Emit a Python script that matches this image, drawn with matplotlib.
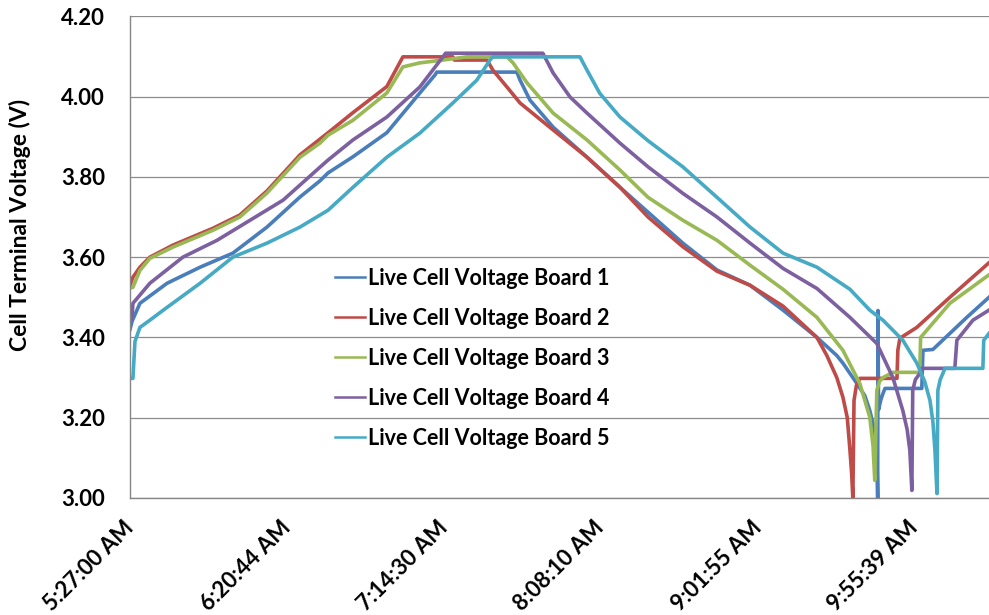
import matplotlib
matplotlib.use('Agg')
import matplotlib.pyplot as plt

plt.rcParams['font.family'] = ['Lato', 'DejaVu Sans']
plt.rcParams['font.weight'] = 'bold'

# time axis in minutes after 5:27:00 AM, values in volts
board1_t = [0, 0.7, 3.4, 12.7, 24.0, 35.2, 46.9, 58.2, 65.0, 67.8, 76.3, 87.9, 99.2, 104.4, 105.0,
            132.4, 133.5, 136.9, 144.8, 156.4, 167.7, 177.3, 189.2, 200.9, 212.2, 223.5, 235.1,
            241.9, 244.0, 248.8, 251.5, 253.2, 254.8, 255.6, 255.9, 256.0, 256.2, 257.0, 257.7,
            258.4, 271.0, 271.4, 274.8, 280.6, 286.4, 294.0]
board1_v = [3.42, 3.44, 3.485, 3.535, 3.575, 3.61, 3.675, 3.75, 3.79, 3.81, 3.85, 3.91, 4.009, 4.054, 4.061,
            4.061, 4.041, 3.991, 3.924, 3.849, 3.774, 3.712, 3.635, 3.568, 3.53, 3.468, 3.40,
            3.355, 3.336, 3.285, 3.255, 3.218, 3.17, 3.12, 3.0, 3.467, 3.22, 3.245, 3.26,
            3.273, 3.273, 3.368, 3.37, 3.41, 3.45, 3.50]

board2_t = [0, 1.0, 3.4, 6.8, 14.7, 28.4, 37.6, 46.9, 58.2, 67.8, 76.3, 87.9, 93.4, 110.5, 111.0,
            122.2, 124.2, 129.0, 133.5, 144.8, 156.4, 167.7, 177.3, 189.2, 200.9, 212.2, 223.5,
            235.1, 238.5, 241.9, 244.0, 245.5, 246.4, 247.0, 247.4, 247.8, 248.6, 249.8, 262.5,
            262.8, 263.5, 269.3, 280.6, 294.0]
board2_v = [3.53, 3.55, 3.575, 3.60, 3.63, 3.672, 3.705, 3.765, 3.855, 3.91, 3.96, 4.025, 4.099, 4.099, 4.091,
            4.091, 4.066, 4.024, 3.984, 3.917, 3.849, 3.774, 3.70, 3.626, 3.565, 3.53, 3.478,
            3.40, 3.355, 3.30, 3.251, 3.20, 3.12, 3.06, 3.0, 3.243, 3.28, 3.298, 3.298,
            3.368, 3.398, 3.425, 3.50, 3.586]

board3_t = [0, 1.0, 3.4, 6.8, 14.7, 28.4, 37.6, 46.9, 58.2, 65.0, 67.8, 76.3, 87.9, 93.4, 99.2, 107.1,
            115.3, 129.0, 131.1, 135.9, 144.8, 156.4, 167.7, 177.3, 189.2, 200.9, 212.2, 223.5,
            235.1, 244.0, 249.8, 253.2, 254.3, 254.9, 255.6, 256.5, 257.7, 261.1, 270.3, 270.6,
            280.6, 294.0]
board3_v = [3.523, 3.525, 3.567, 3.597, 3.625, 3.667, 3.70, 3.76, 3.849, 3.884, 3.904, 3.941, 4.009, 4.074, 4.084, 4.091,
            4.099, 4.099, 4.084, 4.034, 3.959, 3.892, 3.817, 3.749, 3.692, 3.642, 3.58, 3.52,
            3.45, 3.368, 3.285, 3.201, 3.13, 3.044, 3.268, 3.29, 3.30, 3.313, 3.313, 3.40,
            3.485, 3.556]

board4_t = [0, 0.7, 1.0, 6.8, 18.1, 29.8, 41.1, 52.4, 65.0, 67.8, 76.3, 87.9, 99.2, 107.1, 108.0,
            141.3, 144.8, 150.6, 156.4, 167.7, 177.3, 189.2, 200.9, 212.2, 223.5, 235.1, 246.4,
            255.6, 261.1, 264.5, 266.0, 266.9, 267.6, 267.9, 268.8, 270.3, 271.0, 282.3, 283.0,
            288.5, 294.0]
board4_v = [3.44, 3.45, 3.485, 3.535, 3.60, 3.642, 3.692, 3.742, 3.824, 3.842, 3.892, 3.949, 4.024, 4.099, 4.108,
            4.108, 4.059, 3.999, 3.959, 3.884, 3.825, 3.759, 3.70, 3.635, 3.572, 3.522, 3.45,
            3.385, 3.30, 3.218, 3.17, 3.119, 3.019, 3.268, 3.295, 3.31, 3.323, 3.323, 3.393,
            3.443, 3.468]

board5_t = [0, 1.0, 1.7, 3.4, 6.8, 12.7, 24.0, 35.2, 46.9, 58.2, 67.8, 76.3, 87.9, 99.2, 110.5, 118.7,
            123.2, 124.2, 154.0, 156.4, 160.8, 167.7, 177.3, 189.2, 200.9, 212.2, 223.5, 235.1,
            246.4, 253.2, 257.7, 264.5, 269.3, 272.0, 273.8, 274.8, 275.5, 276.2, 276.5, 277.3,
            278.2, 278.9, 291.9, 292.2, 294.0]
board5_v = [3.298, 3.298, 3.39, 3.425, 3.443, 3.475, 3.535, 3.60, 3.635, 3.675, 3.717, 3.774, 3.849, 3.909, 3.984, 4.041,
            4.091, 4.099, 4.099, 4.066, 4.008, 3.949, 3.89, 3.825, 3.749, 3.675, 3.61, 3.575,
            3.52, 3.468, 3.443, 3.393, 3.336, 3.29, 3.243, 3.19, 3.119, 3.011, 3.268, 3.295,
            3.31, 3.323, 3.323, 3.393, 3.41]

series_names = ['Live Cell Voltage Board 1', 'Live Cell Voltage Board 2', 'Live Cell Voltage Board 3',
                'Live Cell Voltage Board 4', 'Live Cell Voltage Board 5']
series_colors = ['#4A7EBB', '#BE4B48', '#98B954', '#7D60A0', '#46AAC5']
series_t = [board1_t, board2_t, board3_t, board4_t, board5_t]
series_v = [board1_v, board2_v, board3_v, board4_v, board5_v]

tick_minutes = [0, 53.73, 107.5, 161.17, 214.92, 268.65]
tick_labels = ['5:27:00 AM', '6:20:44 AM', '7:14:30 AM', '8:08:10 AM', '9:01:55 AM', '9:55:39 AM']
y_ticks = [3.00, 3.20, 3.40, 3.60, 3.80, 4.00, 4.20]

fig = plt.figure(figsize=(9.89, 6.15), dpi=100)
ax = fig.add_axes([130 / 989, 1 - 498 / 615, 859 / 989, (498 - 16.3) / 615])

for name, color, t, v in zip(series_names, series_colors, series_t, series_v):
    ax.plot(t, v, color=color, linewidth=2.6, label=name, solid_joinstyle='round')

ax.set_xlim(0, 294.0)
ax.set_ylim(3.0, 4.2)
ax.set_yticks(y_ticks, ['%.2f' % y for y in y_ticks])
ax.set_xticks(tick_minutes, tick_labels, rotation=45, ha='right', va='center', rotation_mode='anchor')
ax.tick_params(axis='y', length=0, pad=18, labelsize=16)
ax.tick_params(axis='x', length=0, pad=19, labelsize=16)

ax.grid(axis='y', color='#8c8c8c', linewidth=0.9)
ax.set_axisbelow(True)
for side in ['top', 'right']:
    ax.spines[side].set_visible(False)
for side in ['left', 'bottom']:
    ax.spines[side].set_color('#868686')
    ax.spines[side].set_linewidth(1.0)

fig.text(20 / 989, 1 - 225 / 615, 'Cell Terminal Voltage (V)', rotation=90,
         ha='center', va='center', fontsize=16.5, fontweight='bold')

leg = ax.legend(loc='upper left', bbox_to_anchor=(335 / 989, 1 - 268 / 615),
                bbox_transform=fig.transFigure, frameon=False, fontsize=15.5,
                handlelength=1.4, handletextpad=0.14, labelspacing=0.88,
                borderpad=0, borderaxespad=0)
for line in leg.get_lines():
    line.set_linewidth(1.8)

fig.savefig('out.png', dpi=100)
